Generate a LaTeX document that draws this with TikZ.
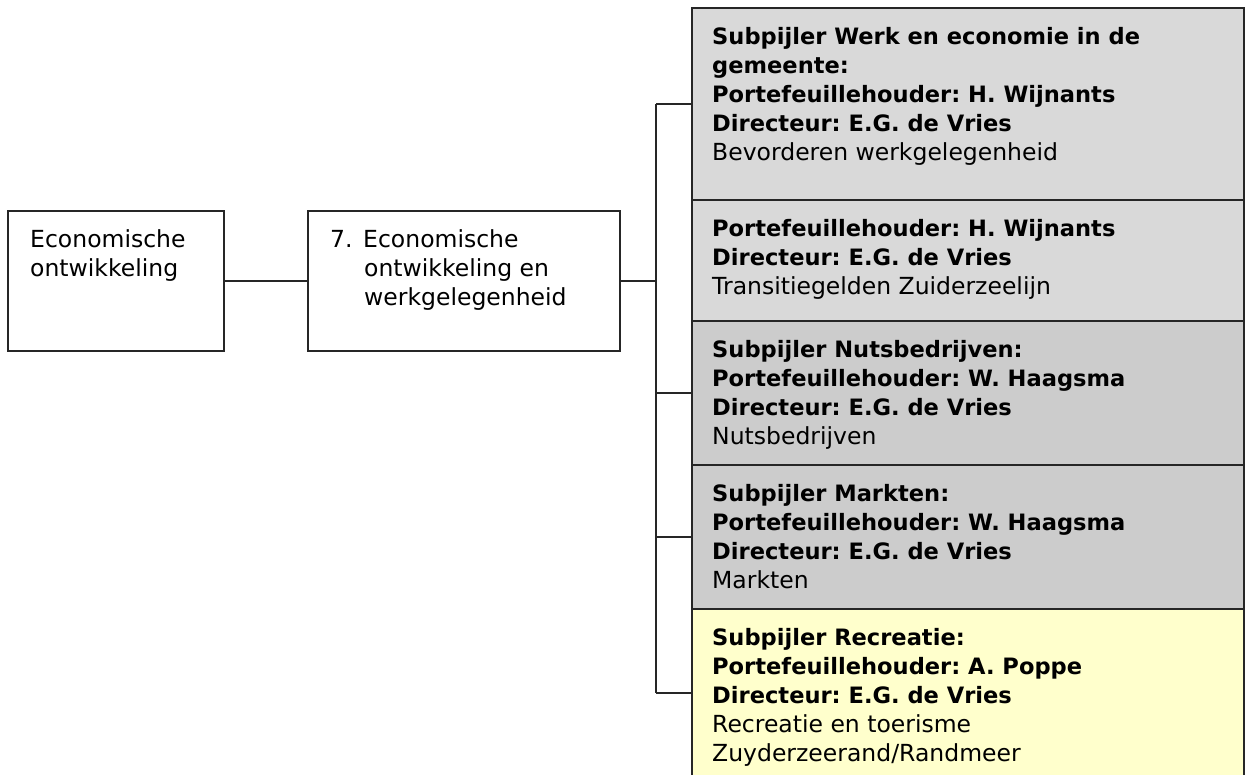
\documentclass[tikz,border=0pt]{standalone}
\usepackage{fontspec}
\setmainfont{DejaVu Sans}[BoldFeatures={Scale=0.96}]
\usepackage{xcolor}
\usepackage{tikz}
\usetikzlibrary{positioning}
\definecolor{cellgrey}{HTML}{D9D9D9}
\definecolor{celldark}{HTML}{CCCCCC}
\definecolor{cellyellow}{HTML}{FFFFCC}
\frenchspacing

\begin{document}
\begin{tikzpicture}[
    x=1pt, y=-1pt, font=\fontsize{23.5}{29}\selectfont,
    box/.style={draw=black!85, line width=1.3pt, anchor=north west, inner sep=0pt, outer sep=0pt, minimum height=140pt},
    cell/.style={box, minimum width=552pt},
    txt/.style={anchor=north west, inner sep=0pt, align=left},
    link/.style={draw=black!85, line width=1.3pt},
  ]
    \useasboundingbox (0,0) rectangle (1246,774);
    \node[box, minimum width=216pt] (pijler) at (8,211) {};
    \node[box, minimum width=312pt] (prog) at (308,211) {};
    \node[cell, fill=cellgrey, minimum height=192pt] (werk) at (692,8) {};
    \node[cell, fill=cellgrey, minimum height=121pt, below=0pt of werk.south west, anchor=north west] (trans) {};
    \node[cell, fill=celldark, minimum height=144pt, below=0pt of trans.south west, anchor=north west] (nuts) {};
    \node[cell, fill=celldark, minimum height=144pt, below=0pt of nuts.south west, anchor=north west] (markt) {};
    \node[cell, fill=cellyellow, minimum height=168pt, below=0pt of markt.south west, anchor=north west] (recr) {};
    \node[txt] (pijler-t) at ([shift={(22,18)}]pijler.north west) {Economische\\ontwikkeling};
    \node[txt] (prog-t) at ([shift={(22,18)}]prog.north west) {\makebox[33pt][l]{7.}Economische\\\hspace*{34pt}ontwikkeling en\\\hspace*{34pt}werkgelegenheid};
    \node[txt] (werk-t) at ([shift={(20,19)}]werk.north west) {\textbf{Subpijler Werk en economie in de}\\\textbf{gemeente:}\\\textbf{Portefeuillehouder: H. Wijnants}\\\textbf{Directeur: E.G. de Vries}\\Bevorderen werkgelegenheid};
    \node[txt] (trans-t) at ([shift={(20,19)}]trans.north west) {\textbf{Portefeuillehouder: H. Wijnants}\\\textbf{Directeur: E.G. de Vries}\\Transitiegelden Zuiderzeelijn};
    \node[txt] (nuts-t) at ([shift={(20,19)}]nuts.north west) {\textbf{Subpijler Nutsbedrijven:}\\\textbf{Portefeuillehouder: W. Haagsma}\\\textbf{Directeur: E.G. de Vries}\\Nutsbedrijven};
    \node[txt] (markt-t) at ([shift={(20,19)}]markt.north west) {\textbf{Subpijler Markten:}\\\textbf{Portefeuillehouder: W. Haagsma}\\\textbf{Directeur: E.G. de Vries}\\Markten};
    \node[txt] (recr-t) at ([shift={(20,19)}]recr.north west) {\textbf{Subpijler Recreatie:}\\\textbf{Portefeuillehouder: A. Poppe}\\\textbf{Directeur: E.G. de Vries}\\Recreatie en toerisme\\Zuyderzeerand/Randmeer};
    \coordinate[right=36pt of prog.east] (trunk);
    \draw[link] (pijler.east) -- (prog.west);
    \draw[link, line width=2.2pt] (prog.east) -- (trunk);
    \draw[link] (werk.west -| trunk) -- (recr.west -| trunk);
    \foreach \n in {werk, nuts, markt, recr}
      \draw[link] (\n.west -| trunk) -- (\n.west);
  \end{tikzpicture}
\end{document}
